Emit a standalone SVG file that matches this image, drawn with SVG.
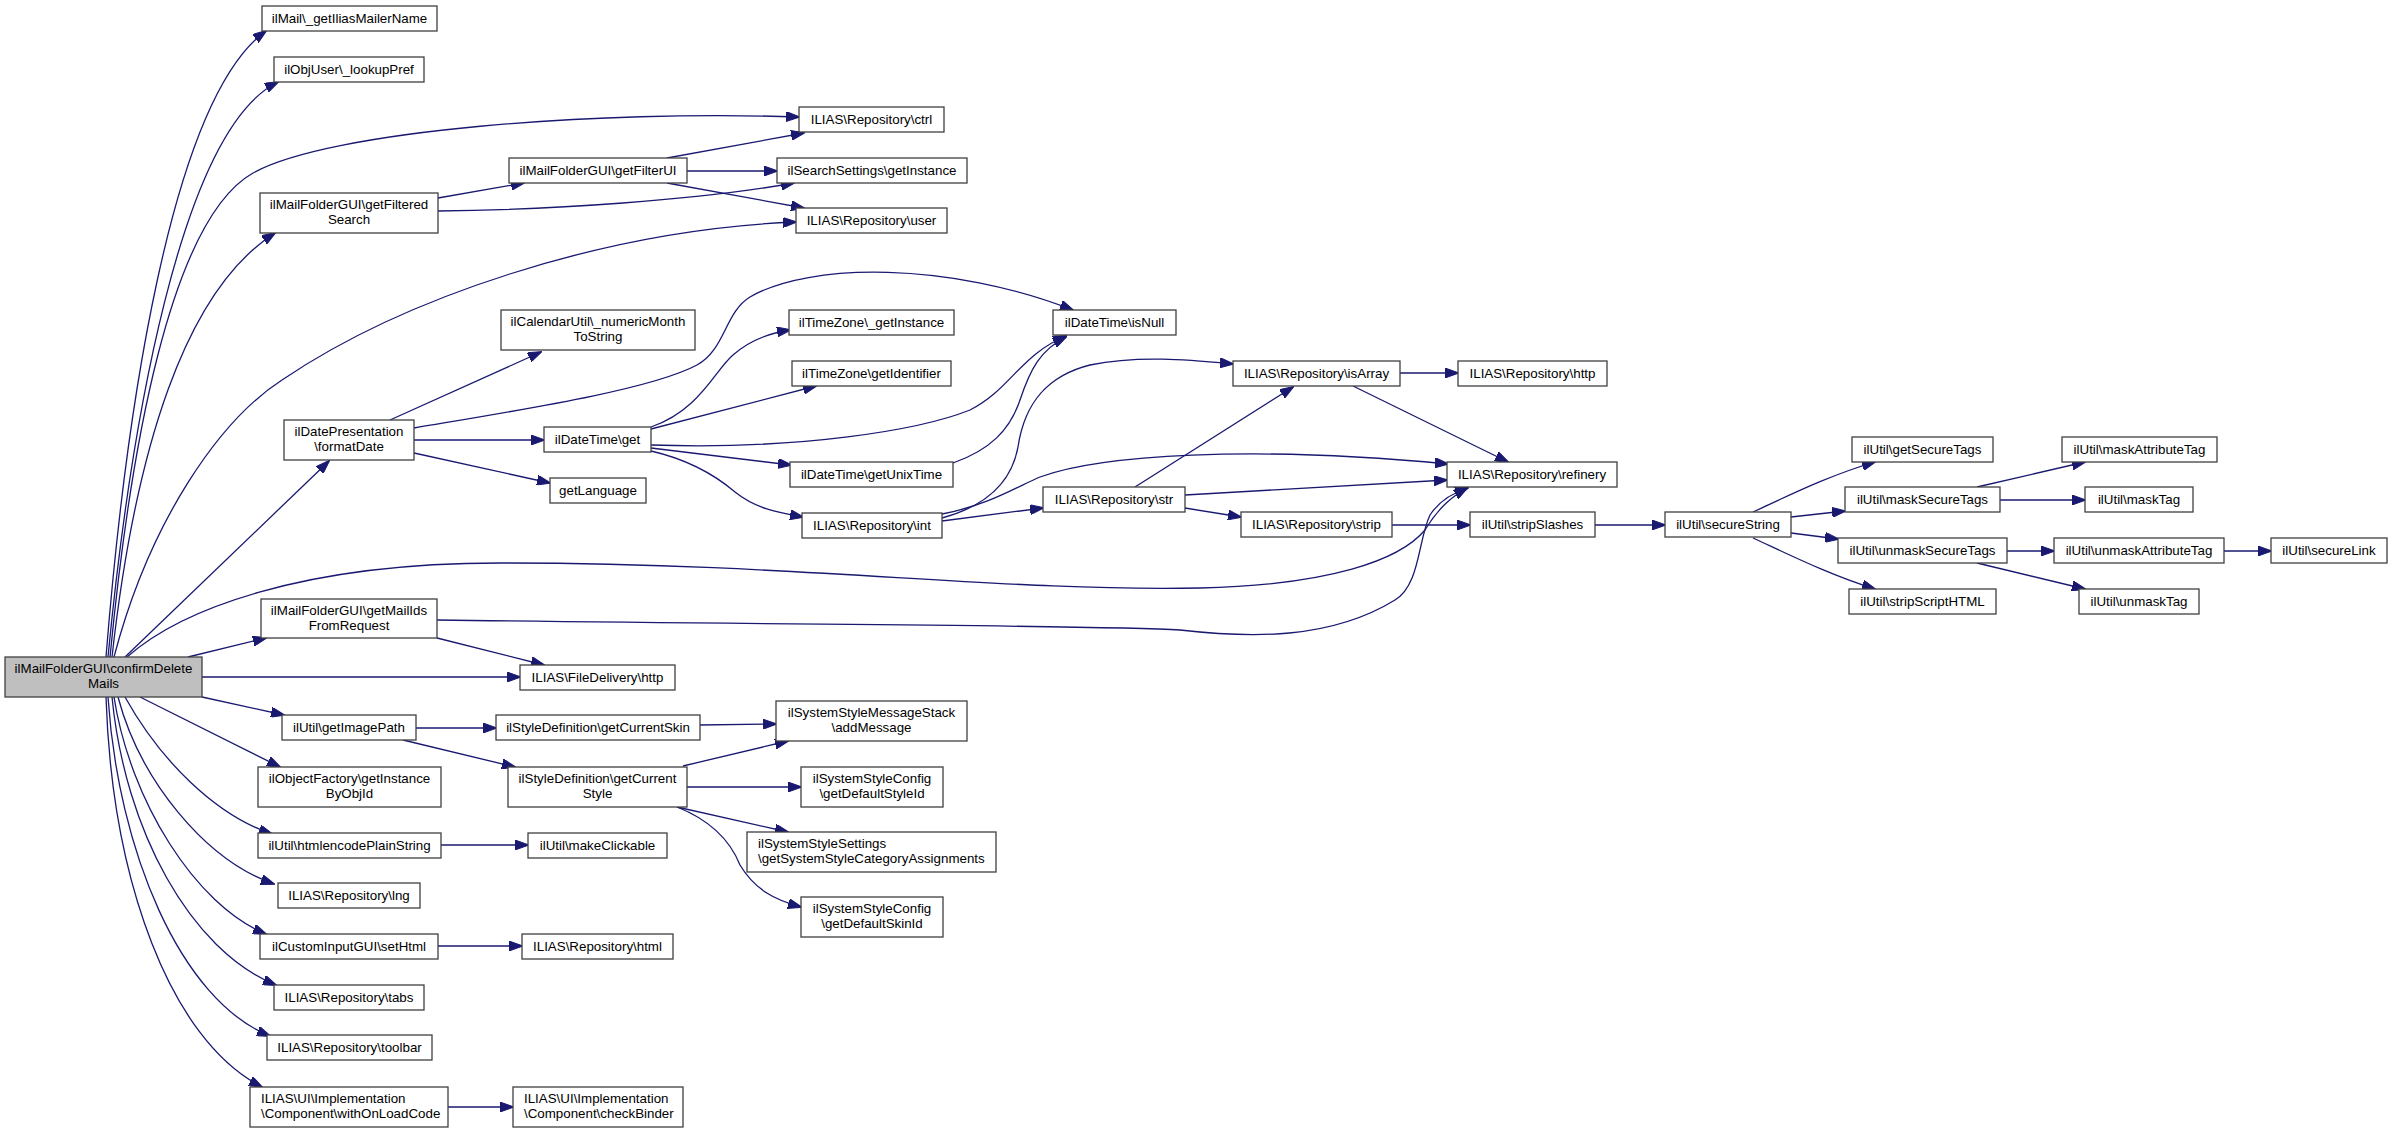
<svg xmlns="http://www.w3.org/2000/svg" width="2392" height="1133" viewBox="0 0 2392 1133">
<style>
.n rect{fill:#ffffff;stroke:#404040;stroke-width:1.3}
.root rect{fill:#bfbfbf}
text{font-family:"Liberation Sans",Arial,Helvetica,sans-serif;font-size:13.33px;fill:#000;text-anchor:middle}
text.l{text-anchor:start}
.e path{fill:none;stroke:#191970;stroke-width:1.3;marker-end:url(#ah)}
</style>
<defs>
<marker id="ah" viewBox="0 0 14 10" refX="13" refY="5" markerWidth="14" markerHeight="10" markerUnits="userSpaceOnUse" orient="auto">
<path d="M0,0 L14,5 L0,10 z" fill="#191970" stroke="#191970" stroke-width="1"/>
</marker>
</defs>
<rect width="2392" height="1133" fill="#ffffff"/>
<g class="e" id="edges">
<path d="M106,657 C125,420 170,100 266,31"/>
<path d="M108,657 C130,430 180,130 278,82"/>
<path d="M110,657 C130,450 170,220 253,173 C330,130 600,110 799,117"/>
<path d="M112,657 C135,450 185,290 275,233"/>
<path d="M114,657 C150,520 220,420 282,380 C400,300 600,230 796,222"/>
<path d="M125,657 L329,461"/>
<path d="M127,657 C180,610 300,563 500,563 C800,563 1000,592 1200,588 C1330,585 1400,560 1425,530 C1440,505 1455,495 1467,488"/>
<path d="M188,657 L266,638"/>
<path d="M202,677 L520,677"/>
<path d="M202,697 L284,715"/>
<path d="M140,697 L280,767"/>
<path d="M125,697 C160,760 215,815 272,834"/>
<path d="M118,697 C140,780 205,860 274,884"/>
<path d="M114,697 C130,800 195,905 266,934"/>
<path d="M112,697 C125,830 190,950 276,985"/>
<path d="M108,697 C118,850 180,1000 270,1036"/>
<path d="M106,697 C112,880 170,1040 262,1087"/>
<path d="M438,198 L524,183"/>
<path d="M438,211 C550,210 700,200 794,183"/>
<path d="M667,158 L804,133"/>
<path d="M687,171 L777,171"/>
<path d="M667,183 L804,208"/>
<path d="M390,420 L541,352"/>
<path d="M414,428 C520,410 650,390 697,365 C725,350 725,312 750,297 C810,262 950,262 1073,310"/>
<path d="M414,440 L544,440"/>
<path d="M414,453 L550,483"/>
<path d="M651,427 C700,410 715,370 733,355 C750,340 770,333 790,330"/>
<path d="M651,429 L816,386"/>
<path d="M651,445 C800,450 920,430 970,410 C1010,390 1020,355 1066,336"/>
<path d="M651,448 L791,465"/>
<path d="M651,451 C690,460 715,475 735,492 C755,508 775,512 803,517"/>
<path d="M953,463 C990,450 1010,430 1020,400 C1030,370 1040,350 1066,337"/>
<path d="M942,514 C990,505 1020,485 1040,477 C1100,455 1250,445 1448,464"/>
<path d="M942,518 C990,505 1012,480 1018,447 C1025,400 1050,375 1090,365 C1140,355 1190,360 1233,364"/>
<path d="M942,521 L1043,508"/>
<path d="M1135,487 L1293,387"/>
<path d="M1185,495 L1447,480"/>
<path d="M1185,508 L1241,517"/>
<path d="M1400,373 L1458,373"/>
<path d="M1353,386 L1508,462"/>
<path d="M1392,525 L1470,525"/>
<path d="M1595,525 L1665,525"/>
<path d="M1753,512 C1790,495 1830,475 1875,462"/>
<path d="M1791,517 L1845,511"/>
<path d="M1791,533 L1838,539"/>
<path d="M1753,538 C1790,555 1830,575 1875,589"/>
<path d="M1977,487 L2085,462"/>
<path d="M2000,500 L2085,500"/>
<path d="M2007,551 L2054,551"/>
<path d="M1977,563 L2085,589"/>
<path d="M2224,551 L2271,551"/>
<path d="M437,620 C800,625 1100,625 1180,630 C1250,638 1330,640 1395,600 C1420,585 1418,540 1430,515 C1440,500 1455,492 1468,488"/>
<path d="M437,638 L544,665"/>
<path d="M416,728 L496,728"/>
<path d="M403,740 L515,767"/>
<path d="M700,725 L776,724"/>
<path d="M683,766 L788,741"/>
<path d="M687,787 L801,787"/>
<path d="M677,807 L788,832"/>
<path d="M677,807 C710,820 730,840 740,865 C755,890 775,900 801,907"/>
<path d="M441,845 L528,845"/>
<path d="M438,946 L522,946"/>
<path d="M448,1107 L513,1107"/>
</g>
<g class="n root" id="confirmDeleteMails"><rect x="5" y="657" width="197" height="40"/><text x="103.5" y="673">ilMailFolderGUI\confirmDelete</text><text x="103.5" y="688">Mails</text></g>
<g class="n" id="getIliasMailerName"><rect x="262" y="6" width="175" height="25"/><text x="349.5" y="22.5">ilMail\_getIliasMailerName</text></g>
<g class="n" id="lookupPref"><rect x="274" y="57" width="150" height="25"/><text x="349" y="73.5">ilObjUser\_lookupPref</text></g>
<g class="n" id="ctrl"><rect x="799" y="107" width="145" height="25"/><text x="871.5" y="123.5">ILIAS\Repository\ctrl</text></g>
<g class="n" id="getFilteredSearch"><rect x="260" y="193" width="178" height="40"/><text x="349" y="209">ilMailFolderGUI\getFiltered</text><text x="349" y="224">Search</text></g>
<g class="n" id="getFilterUI"><rect x="509" y="158" width="178" height="25"/><text x="598" y="174.5">ilMailFolderGUI\getFilterUI</text></g>
<g class="n" id="searchSettings"><rect x="777" y="158" width="190" height="25"/><text x="872" y="174.5">ilSearchSettings\getInstance</text></g>
<g class="n" id="user"><rect x="796" y="208" width="151" height="25"/><text x="871.5" y="224.5">ILIAS\Repository\user</text></g>
<g class="n" id="numericMonth"><rect x="501" y="310" width="194" height="40"/><text x="598" y="326">ilCalendarUtil\_numericMonth</text><text x="598" y="341">ToString</text></g>
<g class="n" id="isNull"><rect x="1053" y="310" width="123" height="25"/><text x="1114.5" y="326.5">ilDateTime\isNull</text></g>
<g class="n" id="tzGetInstance"><rect x="789" y="310" width="165" height="25"/><text x="871.5" y="326.5">ilTimeZone\_getInstance</text></g>
<g class="n" id="getIdentifier"><rect x="792" y="361" width="159" height="25"/><text x="871.5" y="377.5">ilTimeZone\getIdentifier</text></g>
<g class="n" id="isArray"><rect x="1233" y="361" width="167" height="25"/><text x="1316.5" y="377.5">ILIAS\Repository\isArray</text></g>
<g class="n" id="repoHttp"><rect x="1458" y="361" width="149" height="25"/><text x="1532.5" y="377.5">ILIAS\Repository\http</text></g>
<g class="n" id="formatDate"><rect x="284" y="420" width="130" height="40"/><text x="349" y="436">ilDatePresentation</text><text x="349" y="451">\formatDate</text></g>
<g class="n" id="dtGet"><rect x="544" y="427" width="107" height="25"/><text x="597.5" y="443.5">ilDateTime\get</text></g>
<g class="n" id="getUnixTime"><rect x="790" y="462" width="163" height="25"/><text x="871.5" y="478.5">ilDateTime\getUnixTime</text></g>
<g class="n" id="refinery"><rect x="1447" y="462" width="170" height="25"/><text x="1532" y="478.5">ILIAS\Repository\refinery</text></g>
<g class="n" id="getLanguage"><rect x="550" y="478" width="96" height="25"/><text x="598" y="494.5">getLanguage</text></g>
<g class="n" id="str"><rect x="1043" y="487" width="142" height="25"/><text x="1114" y="503.5">ILIAS\Repository\str</text></g>
<g class="n" id="int"><rect x="802" y="513" width="140" height="25"/><text x="872" y="529.5">ILIAS\Repository\int</text></g>
<g class="n" id="strip"><rect x="1241" y="512" width="151" height="25"/><text x="1316.5" y="528.5">ILIAS\Repository\strip</text></g>
<g class="n" id="stripSlashes"><rect x="1470" y="512" width="125" height="25"/><text x="1532.5" y="528.5">ilUtil\stripSlashes</text></g>
<g class="n" id="secureString"><rect x="1665" y="512" width="126" height="25"/><text x="1728" y="528.5">ilUtil\secureString</text></g>
<g class="n" id="getSecureTags"><rect x="1852" y="437" width="141" height="25"/><text x="1922.5" y="453.5">ilUtil\getSecureTags</text></g>
<g class="n" id="maskSecureTags"><rect x="1845" y="487" width="155" height="25"/><text x="1922.5" y="503.5">ilUtil\maskSecureTags</text></g>
<g class="n" id="unmaskSecureTags"><rect x="1838" y="538" width="169" height="25"/><text x="1922.5" y="554.5">ilUtil\unmaskSecureTags</text></g>
<g class="n" id="stripScriptHTML"><rect x="1849" y="589" width="147" height="25"/><text x="1922.5" y="605.5">ilUtil\stripScriptHTML</text></g>
<g class="n" id="maskAttributeTag"><rect x="2062" y="437" width="155" height="25"/><text x="2139.5" y="453.5">ilUtil\maskAttributeTag</text></g>
<g class="n" id="maskTag"><rect x="2085" y="487" width="108" height="25"/><text x="2139" y="503.5">ilUtil\maskTag</text></g>
<g class="n" id="unmaskAttributeTag"><rect x="2054" y="538" width="170" height="25"/><text x="2139" y="554.5">ilUtil\unmaskAttributeTag</text></g>
<g class="n" id="secureLink"><rect x="2271" y="538" width="116" height="25"/><text x="2329" y="554.5">ilUtil\secureLink</text></g>
<g class="n" id="unmaskTag"><rect x="2079" y="589" width="120" height="25"/><text x="2139" y="605.5">ilUtil\unmaskTag</text></g>
<g class="n" id="getMailIds"><rect x="261" y="599" width="176" height="39"/><text x="349" y="615">ilMailFolderGUI\getMailIds</text><text x="349" y="630">FromRequest</text></g>
<g class="n" id="fileDeliveryHttp"><rect x="520" y="665" width="155" height="25"/><text x="597.5" y="681.5">ILIAS\FileDelivery\http</text></g>
<g class="n" id="getImagePath"><rect x="282" y="715" width="134" height="25"/><text x="349" y="731.5">ilUtil\getImagePath</text></g>
<g class="n" id="getCurrentSkin"><rect x="496" y="715" width="204" height="25"/><text x="598" y="731.5">ilStyleDefinition\getCurrentSkin</text></g>
<g class="n" id="addMessage"><rect x="776" y="701" width="191" height="40"/><text x="871.5" y="717">ilSystemStyleMessageStack</text><text x="871.5" y="732">\addMessage</text></g>
<g class="n" id="getInstanceByObjId"><rect x="258" y="767" width="183" height="40"/><text x="349.5" y="783">ilObjectFactory\getInstance</text><text x="349.5" y="798">ByObjId</text></g>
<g class="n" id="getCurrentStyle"><rect x="508" y="767" width="179" height="40"/><text x="597.5" y="783">ilStyleDefinition\getCurrent</text><text x="597.5" y="798">Style</text></g>
<g class="n" id="getDefaultStyleId"><rect x="801" y="767" width="142" height="40"/><text x="872" y="783">ilSystemStyleConfig</text><text x="872" y="798">\getDefaultStyleId</text></g>
<g class="n" id="htmlencodePlainString"><rect x="258" y="833" width="183" height="25"/><text x="349.5" y="849.5">ilUtil\htmlencodePlainString</text></g>
<g class="n" id="makeClickable"><rect x="528" y="833" width="139" height="25"/><text x="597.5" y="849.5">ilUtil\makeClickable</text></g>
<g class="n" id="categoryAssignments"><rect x="747" y="832" width="249" height="40"/><text class="l" x="758" y="848">ilSystemStyleSettings</text><text class="l" x="758" y="863">\getSystemStyleCategoryAssignments</text></g>
<g class="n" id="lng"><rect x="278" y="883" width="142" height="25"/><text x="349" y="899.5">ILIAS\Repository\lng</text></g>
<g class="n" id="getDefaultSkinId"><rect x="801" y="897" width="142" height="40"/><text x="872" y="913">ilSystemStyleConfig</text><text x="872" y="928">\getDefaultSkinId</text></g>
<g class="n" id="setHtml"><rect x="260" y="934" width="178" height="25"/><text x="349" y="950.5">ilCustomInputGUI\setHtml</text></g>
<g class="n" id="html"><rect x="522" y="934" width="151" height="25"/><text x="597.5" y="950.5">ILIAS\Repository\html</text></g>
<g class="n" id="tabs"><rect x="274" y="985" width="150" height="25"/><text x="349" y="1001.5">ILIAS\Repository\tabs</text></g>
<g class="n" id="toolbar"><rect x="267" y="1035" width="165" height="25"/><text x="349.5" y="1051.5">ILIAS\Repository\toolbar</text></g>
<g class="n" id="withOnLoadCode"><rect x="250" y="1087" width="198" height="40"/><text class="l" x="261" y="1103">ILIAS\UI\Implementation</text><text class="l" x="261" y="1118">\Component\withOnLoadCode</text></g>
<g class="n" id="checkBinder"><rect x="513" y="1087" width="170" height="40"/><text class="l" x="524" y="1103">ILIAS\UI\Implementation</text><text class="l" x="524" y="1118">\Component\checkBinder</text></g>
</svg>
